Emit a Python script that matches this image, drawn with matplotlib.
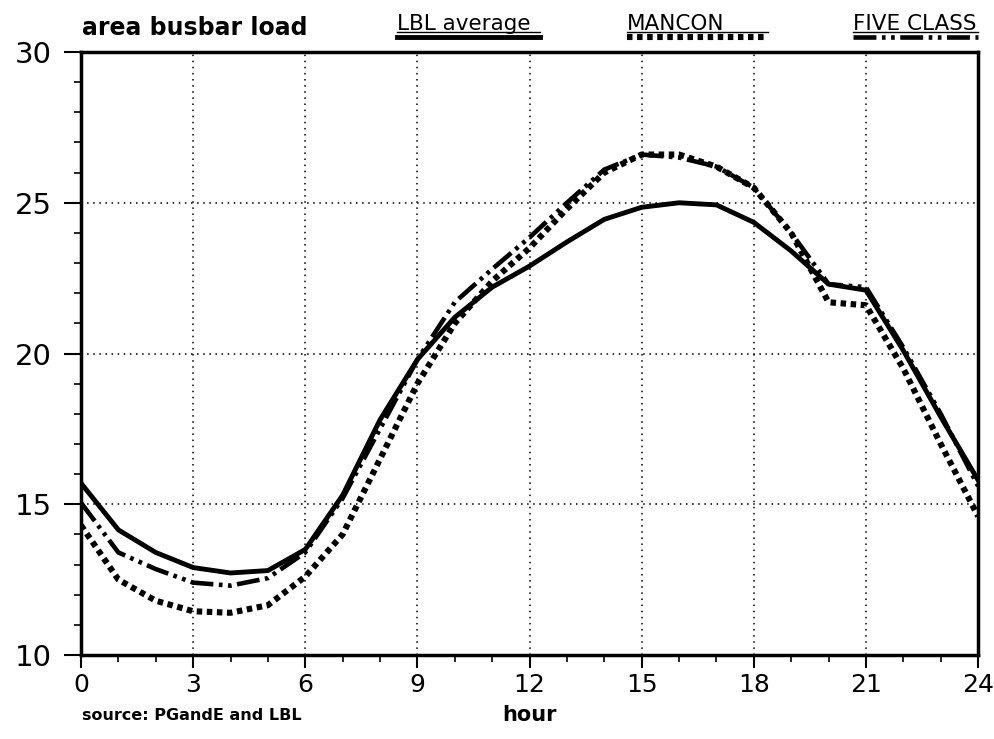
import matplotlib
matplotlib.use("Agg")
import matplotlib.pyplot as plt
from matplotlib.lines import Line2D
from matplotlib.ticker import MultipleLocator

# Данные
hours = list(range(0, 25))
lbl_average = [15.7, 14.15, 13.4, 12.9, 12.72, 12.8, 13.5, 15.3, 17.8, 19.8, 21.2, 22.2,
               22.9, 23.7, 24.45, 24.85, 25.0, 24.93, 24.35, 23.4, 22.3, 22.1, 20.1, 17.9, 15.8]
mancon = [14.3, 12.5, 11.8, 11.45, 11.4, 11.65, 12.6, 14.0, 16.5, 19.0, 21.0, 22.4,
          23.5, 24.8, 26.0, 26.6, 26.6, 26.2, 25.5, 24.0, 21.7, 21.6, 19.5, 17.0, 14.6]
five_class = [15.05, 13.4, 12.85, 12.4, 12.3, 12.55, 13.4, 15.2, 17.5, 19.8, 21.7, 22.8,
              23.85, 25.0, 26.1, 26.6, 26.5, 26.2, 25.5, 24.0, 22.3, 22.2, 20.2, 18.0, 15.6]
x_ticks = [0, 3, 6, 9, 12, 15, 18, 21, 24]
y_ticks = [10, 15, 20, 25, 30]

styles = {
    "LBL average": dict(color="black", lw=3.5, linestyle="-"),
    "MANCON": dict(color="black", lw=4.4, linestyle=(0, (0.9, 0.75))),
    "FIVE CLASS": dict(color="black", lw=3.3, linestyle=(0, (5, 1.2, 0.8, 1.2, 0.8, 1.2))),
}

fig = plt.figure(figsize=(9.95, 7.39), dpi=100)
ax = fig.add_axes([0.0814, 0.1137, 0.9016, 0.8159])

ax.plot(hours, lbl_average, **styles["LBL average"])
ax.plot(hours, mancon, **styles["MANCON"])
ax.plot(hours, five_class, **styles["FIVE CLASS"])

ax.set_xlim(0, 24)
ax.set_ylim(10, 30)
ax.set_xticks(x_ticks)
ax.set_yticks(y_ticks)
ax.xaxis.set_minor_locator(MultipleLocator(1))
ax.yaxis.set_minor_locator(MultipleLocator(1))
ax.tick_params(axis="x", which="major", length=9, width=1.5, labelsize=18, pad=4)
ax.tick_params(axis="x", which="minor", length=5, width=1.2)
ax.tick_params(axis="y", which="major", length=12, width=1.5, labelsize=21, pad=9)
ax.tick_params(axis="y", which="minor", length=5, width=1.2)
ax.grid(True, which="major", linestyle=(0, (1, 3)), color="black", lw=1.1)
for s in ax.spines.values():
    s.set_linewidth(2.5)

ax.set_xlabel("hour", fontsize=15, fontweight="bold", labelpad=6)

fig.text(0.0824, 0.026, "source: PGandE and LBL", fontsize=11.5, fontweight="bold")
fig.text(0.0824, 0.952, "area busbar load", fontsize=17, fontweight="bold")

# легенда: подпись сверху, образец линии снизу
legend_items = [("LBL average", 0.399, 0.543), ("MANCON", 0.630, 0.772), ("FIVE CLASS", 0.857, 0.983)]
for name, x0, x1 in legend_items:
    fig.text(x0, 0.960, name, fontsize=15.5)
    fig.add_artist(Line2D([x0, x1], [0.957, 0.957], color="black", lw=1.0))
    fig.add_artist(Line2D([x0, x1], [0.950, 0.950], **styles[name]))

fig.savefig("out.png", dpi=100)
